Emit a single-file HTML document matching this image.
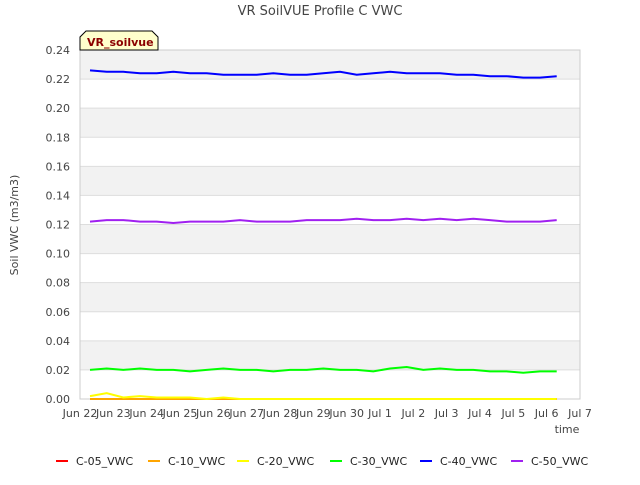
<!DOCTYPE html>
<html><head><meta charset="utf-8"><style>
body{margin:0;background:#fff;font-family:"Liberation Sans","DejaVu Sans",sans-serif}
svg text{font-family:"DejaVu Sans","Liberation Sans",sans-serif}
</style></head><body>
<svg width="640" height="480" viewBox="0 0 640 480">
<g id="bands"></g>
<text x="320" y="15" text-anchor="middle" font-size="13" fill="#444">VR SoilVUE Profile C VWC</text>
<text x="18" y="225" text-anchor="middle" font-size="11" fill="#444" transform="rotate(-90 18 225)">Soil VWC (m3/m3)</text>
<text x="567" y="433" text-anchor="middle" font-size="11" fill="#444">time</text>
<g id="yticks"></g><g id="xticks"></g><g id="series"></g>
<g>
<path d="M80,50 L80,37 L86,31 L152,31 L158,37 L158,50 Z" fill="#ffffcc" stroke="#000" stroke-width="1"/>
<text x="87" y="46" font-size="11" font-weight="bold" fill="#8b0000">VR_soilvue</text></g>
<g id="legend"></g>
</svg>
<script>
const yTicks=[0,0.02,0.04,0.06,0.08,0.10,0.12,0.14,0.16,0.18,0.20,0.22,0.24];
const xLabels=["Jun 22","Jun 23","Jun 24","Jun 25","Jun 26","Jun 27","Jun 28","Jun 29","Jun 30","Jul 1","Jul 2","Jul 3","Jul 4","Jul 5","Jul 6","Jul 7"];
const seriesNames=["C-05_VWC","C-10_VWC","C-20_VWC","C-30_VWC","C-40_VWC","C-50_VWC"];
const seriesColors=["#ff0000","#ffa500","#ffff00","#00ff00","#0000ff","#a020f0"];
const times=[0.3,0.8,1.3,1.8,2.3,2.8,3.3,3.8,4.3,4.8,5.3,5.8,6.3,6.8,7.3,7.8,8.3,8.8,9.3,9.8,10.3,10.8,11.3,11.8,12.3,12.8,13.3,13.8,14.3];
const c05=[0,0,0,0,0,0,0,0,0,0,0,0,0,0,0,0,0,0,0,0,0,0,0,0,0,0,0,0,0];
const c10=[0,0,0,0,0,0,0,0,0,0,0,0,0,0,0,0,0,0,0,0,0,0,0,0,0,0,0,0,0];
const c20=[0.002,0.004,0.001,0.002,0.001,0.001,0.001,0,0.001,0,0,0,0,0,0,0,0,0,0,0,0,0,0,0,0,0,0,0,0];
const c30=[0.020,0.021,0.020,0.021,0.020,0.020,0.019,0.020,0.021,0.020,0.020,0.019,0.020,0.020,0.021,0.020,0.020,0.019,0.021,0.022,0.020,0.021,0.020,0.020,0.019,0.019,0.018,0.019,0.019];
const c40=[0.226,0.225,0.225,0.224,0.224,0.225,0.224,0.224,0.223,0.223,0.223,0.224,0.223,0.223,0.224,0.225,0.223,0.224,0.225,0.224,0.224,0.224,0.223,0.223,0.222,0.222,0.221,0.221,0.222];
const c50=[0.122,0.123,0.123,0.122,0.122,0.121,0.122,0.122,0.122,0.123,0.122,0.122,0.122,0.123,0.123,0.123,0.124,0.123,0.123,0.124,0.123,0.124,0.123,0.124,0.123,0.122,0.122,0.122,0.123];
const allSeries=[c05,c10,c20,c30,c40,c50];
const NS="http://www.w3.org/2000/svg";
const X0=80,X1=580,Y0=399,Y1=50;
const xs=d=>X0+(X1-X0)*d/15;
const ys=v=>Y0-(Y0-Y1)*v/0.24;
function mk(t,a,p){const e=document.createElementNS(NS,t);for(const k in a)e.setAttribute(k,a[k]);p.appendChild(e);return e;}
const bands=document.getElementById('bands');
for(let i=yTicks.length-1;i>0;i-=2){
 const r=mk('rect',{x:X0,y:ys(yTicks[i]),width:X1-X0,height:ys(yTicks[i-1])-ys(yTicks[i]),fill:'#f2f2f2'},bands);
 
 
}
const yt=document.getElementById('yticks');
yTicks.forEach(v=>{
 const l=mk('line',{x1:X0,x2:X1,y1:ys(v),y2:ys(v),stroke:'#ddd'},yt);
 
 
 const t=mk('text',{x:X0-10,y:ys(v)+4,'text-anchor':'end','font-size':'11',fill:'#444'},yt);
 
 
 t.textContent=v.toFixed(2);
});
mk('rect',{x:X0,y:Y1,width:X1-X0,height:Y0-Y1,fill:'none',stroke:'#ccc'},yt);
const xt=document.getElementById('xticks');
xLabels.forEach((s,i)=>{
 const t=mk('text',{x:xs(i),y:Y0+18,'text-anchor':'middle','font-size':'11',fill:'#444'},xt);
 
 
 t.textContent=s;
});
const sg=document.getElementById('series');
allSeries.forEach((arr,si)=>{
 const pts=arr.map((v,i)=>xs(times[i]).toFixed(1)+','+ys(v).toFixed(1)).join(' ');
 const p=mk('polyline',{points:pts,fill:'none',stroke:seriesColors[si],'stroke-width':'2'},sg);
 
 
});
const lg=document.getElementById('legend');
const lx=[56,148,237,330,420,511];
seriesNames.forEach((n,i)=>{
 const g=mk('g',{},lg);
 
 
 mk('line',{x1:lx[i],x2:lx[i]+12,y1:461,y2:461,stroke:seriesColors[i],'stroke-width':'2'},g);
 const t=mk('text',{x:lx[i]+20,y:465,'font-size':'11',fill:'#222'},g);
 t.textContent=n;
});
</script>
</body></html>
